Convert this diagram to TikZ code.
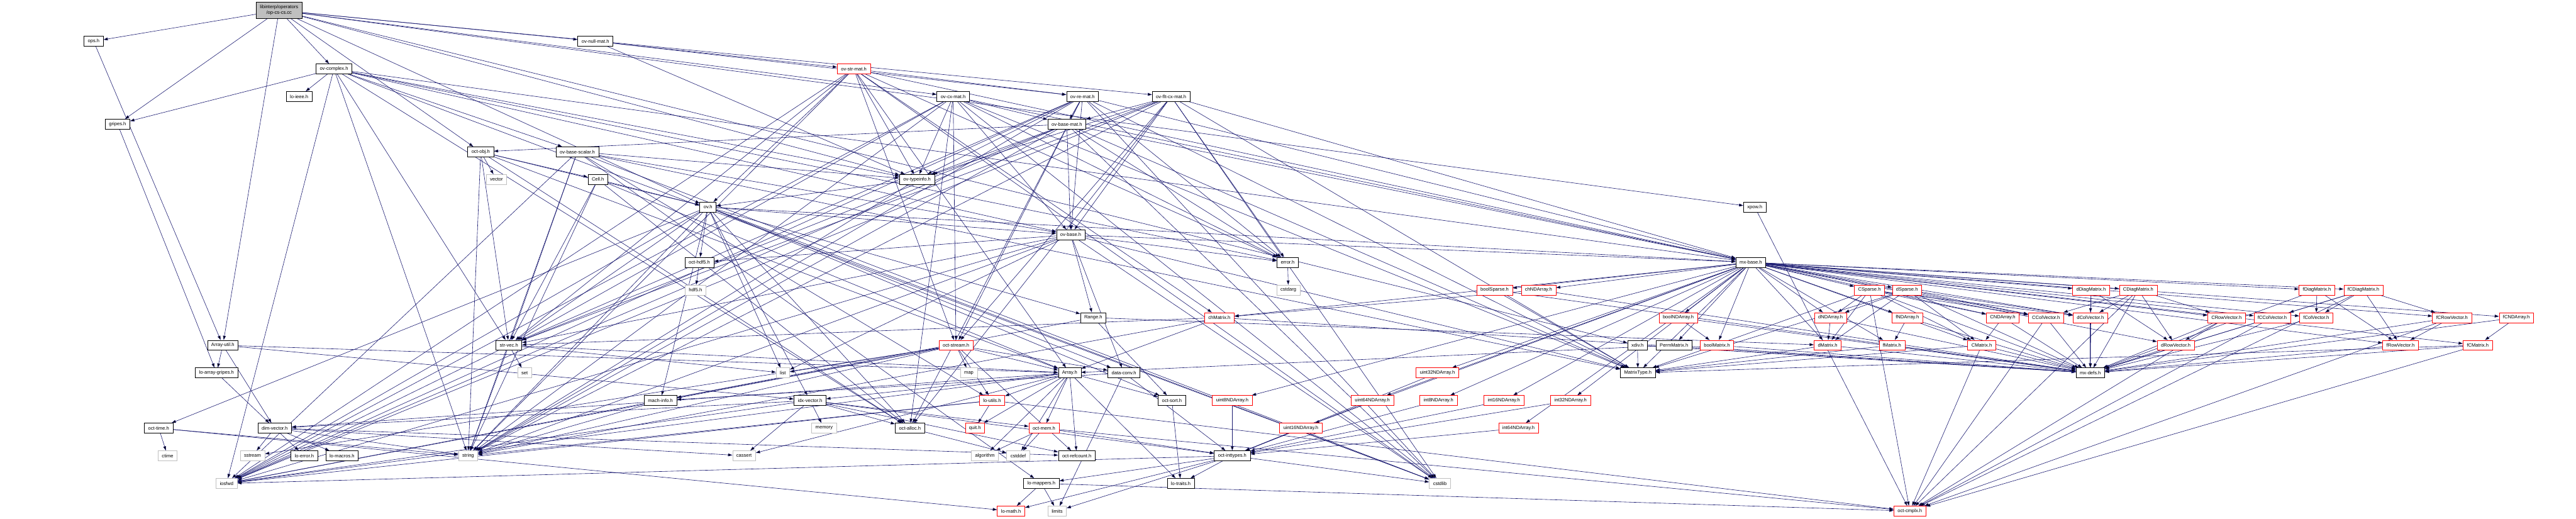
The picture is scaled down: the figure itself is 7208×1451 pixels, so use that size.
\documentclass[tikz,border=0pt]{standalone}
\usepackage{fontspec}
\setmainfont{Liberation Sans}
\usetikzlibrary{arrows.meta}
\definecolor{edgeblue}{HTML}{191970}
\definecolor{sysgray}{HTML}{BFBFBF}
\definecolor{mainfill}{HTML}{BFBFBF}
\definecolor{truncred}{HTML}{FF0000}
\pgfdeclarelayer{background}
\pgfsetlayers{background,main}

\begin{document}
\begin{tikzpicture}[x=0.75pt,y=-0.75pt,font=\fontsize{10}{12}\selectfont,
  hdr/.style={draw=black,fill=white,line width=0.8pt,minimum height=21pt,inner xsep=8pt,inner ysep=2pt},
  sys/.style={hdr,draw=sysgray},
  trunc/.style={hdr,draw=truncred},
  srcfile/.style={hdr,fill=mainfill,align=center,minimum height=34pt},
  dep/.style={draw=edgeblue,line width=0.8pt,>={Triangle[length=9pt,width=6pt]},->}]
  \useasboundingbox (0,0) rectangle (7208,1451);

  % rank 0 - 3
  \node[srcfile] (opcscc) at (781,29) {libinterp/operators\\/op-cs-cs.cc};
  \node[hdr] (ops) at (262,115.5) {ops.h};
  \node[hdr] (ovnullmat) at (1666,115.5) {ov-null-mat.h};
  \node[hdr] (ovcomplex) at (934.5,192.8) {ov-complex.h};
  \node[trunc] (ovstrmat) at (2389,192.8) {ov-str-mat.h};
  \node[hdr] (loieee) at (837,270.1) {lo-ieee.h};
  \node[hdr] (ovcxmat) at (2667,270.1) {ov-cx-mat.h};
  \node[hdr] (ovremat) at (3029,270.1) {ov-re-mat.h};
  \node[hdr] (ovfltcxmat) at (3277,270.1) {ov-flt-cx-mat.h};

  % rank 4 - 8
  \node[hdr] (gripes) at (329,347.4) {gripes.h};
  \node[hdr] (ovbasemat) at (2985,347.4) {ov-base-mat.h};
  \node[hdr] (octobj) at (1345,424.7) {oct-obj.h};
  \node[hdr] (ovbasescalar) at (1615.5,424.7) {ov-base-scalar.h};
  \node[sys] (vector) at (1389,502) {vector};
  \node[hdr] (cell) at (1673,502) {Cell.h};
  \node[hdr] (ovtypeinfo) at (2566,502) {ov-typeinfo.h};
  \node[hdr] (ov) at (1981,579.3) {ov.h};
  \node[hdr] (xpow) at (4910,579.3) {xpow.h};
  \node[hdr] (ovbase) at (2996,656.6) {ov-base.h};

  % rank 9 - 10
  \node[hdr] (octhdf5) at (1957,733.9) {oct-hdf5.h};
  \node[hdr] (error) at (3603,733.9) {error.h};
  \node[hdr] (mxbase) at (4899,733.9) {mx-base.h};
  \node[sys] (hdf5) at (1946,811.2) {hdf5.h};
  \node[sys] (cstdarg) at (3605,811.2) {cstdarg};
  \node[trunc] (boolsparse) at (4182,811.2) {boolSparse.h};
  \node[trunc] (chndarray) at (4305,811.2) {chNDArray.h};
  \node[trunc] (csparse) at (5231,811.2) {CSparse.h};
  \node[trunc] (dsparse) at (5336,811.2) {dSparse.h};
  \node[trunc] (ddiagmatrix) at (5851,811.2) {dDiagMatrix.h};
  \node[trunc] (cdiagmatrix) at (5983,811.2) {CDiagMatrix.h};
  \node[trunc] (fdiagmatrix) at (6483,811.2) {fDiagMatrix.h};
  \node[trunc] (fcdiagmatrix) at (6613,811.2) {fCDiagMatrix.h};

  % rank 11
  \node[hdr] (range) at (3059,888.5) {Range.h};
  \node[trunc] (chmatrix) at (3412,888.5) {chMatrix.h};
  \node[trunc] (boolndarray) at (4696,888.5) {boolNDArray.h};
  \node[trunc] (dndarray) at (5122,888.5) {dNDArray.h};
  \node[trunc] (fndarray) at (5337,888.5) {fNDArray.h};
  \node[trunc] (cndarray) at (5604,888.5) {CNDArray.h};
  \node[trunc] (ccolvector) at (5725,888.5) {CColVector.h};
  \node[trunc] (dcolvector) at (5849,888.5) {dColVector.h};
  \node[trunc] (crowvector) at (6230,888.5) {CRowVector.h};
  \node[trunc] (fccolvector) at (6358,888.5) {fCColVector.h};
  \node[trunc] (fcolvector) at (6481,888.5) {fColVector.h};
  \node[trunc] (fcrowvector) at (6861,888.5) {fCRowVector.h};
  \node[trunc] (fcndarray) at (7041,888.5) {fCNDArray.h};

  % rank 12
  \node[hdr] (arrayutil) at (623.5,965.8) {Array-util.h};
  \node[hdr] (strvec) at (1424,965.8) {str-vec.h};
  \node[trunc] (octstream) at (2675,965.8) {oct-stream.h};
  \node[hdr] (xdiv) at (4582,965.8) {xdiv.h};
  \node[hdr] (permmatrix) at (4684,965.8) {PermMatrix.h};
  \node[trunc] (boolmatrix) at (4804,965.8) {boolMatrix.h};
  \node[trunc] (dmatrix) at (5114,965.8) {dMatrix.h};
  \node[trunc] (fmatrix) at (5294,965.8) {fMatrix.h};
  \node[trunc] (cmatrix) at (5545,965.8) {CMatrix.h};
  \node[trunc] (drowvector) at (6088,965.8) {dRowVector.h};
  \node[trunc] (frowvector) at (6717,965.8) {fRowVector.h};
  \node[trunc] (fcmatrix) at (6933,965.8) {fCMatrix.h};

  % rank 13 - 14
  \node[hdr] (loarraygripes) at (606,1043.1) {lo-array-gripes.h};
  \node[sys] (set) at (1468,1043.1) {set};
  \node[sys] (list) at (2190.5,1043.1) {list};
  \node[sys] (map) at (2711,1043.1) {map};
  \node[hdr] (array) at (2993,1043.1) {Array.h};
  \node[hdr] (dataconv) at (3145,1043.1) {data-conv.h};
  \node[trunc] (uint32nda) at (4022,1043.1) {uint32NDArray.h};
  \node[hdr] (matrixtype) at (4583,1043.1) {MatrixType.h};
  \node[hdr] (mxdefs) at (5849,1043.1) {mx-defs.h};
  \node[hdr] (machinfo) at (1848,1120.4) {mach-info.h};
  \node[hdr] (idxvector) at (2266.5,1120.4) {idx-vector.h};
  \node[trunc] (loutils) at (2776,1120.4) {lo-utils.h};
  \node[hdr] (octsort) at (3279,1120.4) {oct-sort.h};
  \node[trunc] (uint8nda) at (3448,1120.4) {uint8NDArray.h};
  \node[trunc] (uint64nda) at (3840,1120.4) {uint64NDArray.h};
  \node[trunc] (int8nda) at (4025,1120.4) {int8NDArray.h};
  \node[trunc] (int16nda) at (4208,1120.4) {int16NDArray.h};
  \node[trunc] (int32nda) at (4394.5,1120.4) {int32NDArray.h};

  % rank 15 - 16
  \node[hdr] (octtime) at (444,1197.7) {oct-time.h};
  \node[hdr] (dimvector) at (768.6,1197.7) {dim-vector.h};
  \node[sys] (memory) at (2306,1197.7) {memory};
  \node[hdr] (octalloc) at (2546,1197.7) {oct-alloc.h};
  \node[trunc] (quit) at (2728,1197.7) {quit.h};
  \node[trunc] (octmem) at (2921,1197.7) {oct-mem.h};
  \node[trunc] (uint16nda) at (3640,1197.7) {uint16NDArray.h};
  \node[trunc] (int64nda) at (4249,1197.7) {int64NDArray.h};
  \node[sys] (ctime) at (469,1275) {ctime};
  \node[sys] (sstream) at (706.5,1275) {sstream};
  \node[hdr] (loerror) at (851.6,1275) {lo-error.h};
  \node[hdr] (lomacros) at (957,1275) {lo-macros.h};
  \node[sys] (string) at (1310,1275) {string};
  \node[sys] (cassert) at (2082,1275) {cassert};
  \node[sys] (algorithm) at (2756,1275) {algorithm};
  \node[sys] (cstddef) at (2849,1275) {cstddef};
  \node[hdr] (octrefcount) at (3013,1275) {oct-refcount.h};
  \node[hdr] (octinttypes) at (3448,1275) {oct-inttypes.h};

  % rank 17 - 18
  \node[sys] (iosfwd) at (634,1352.3) {iosfwd};
  \node[sys] (cstdlib) at (4029,1352.3) {cstdlib};
  \node[hdr] (lomappers) at (2914,1352.3) {lo-mappers.h};
  \node[hdr] (lotraits) at (3304,1352.3) {lo-traits.h};
  \node[trunc] (octcmplx) at (5344,1429.6) {oct-cmplx.h};
  \node[trunc] (lomath) at (2829,1429.6) {lo-math.h};
  \node[sys] (limits) at (2958,1429.6) {limits};

  \begin{pgfonlayer}{background}
  \path[dep] (opcscc) edge (ops) edge (gripes) edge (ovcomplex) edge (ovnullmat) edge (ovcxmat) edge (ovfltcxmat)
    edge (octobj) edge (ov) edge (ovtypeinfo) edge (arrayutil) edge (xdiv) edge (xpow);
  \path[dep] (ops) edge (arrayutil);
  \path[dep] (gripes) edge (loarraygripes);
  \path[dep] (ovcomplex) edge (loieee) edge (gripes) edge (cstdlib) edge (iosfwd) edge (string) edge (mxbase)
    edge (octalloc) edge (strvec) edge (error) edge (ovbase) edge (ovbasescalar) edge (ovtypeinfo);
  \path[dep] (ovnullmat) edge (ovstrmat) edge (ovremat) edge (ovtypeinfo);
  \path[dep] (ovstrmat) edge (cstdlib) edge (iosfwd) edge (string) edge (array) edge (chmatrix) edge (mxbase)
    edge (strvec) edge (error) edge (octstream) edge (ov) edge (ovremat) edge (ovtypeinfo);
  \path[dep] (ovcxmat) edge (cstdlib) edge (iosfwd) edge (string) edge (mxbase) edge (octalloc) edge (strvec)
    edge (error) edge (octstream) edge (ovbase) edge (ovbasemat) edge (ovtypeinfo) edge (matrixtype);
  \path[dep] (ovremat) edge (cstdlib) edge (iosfwd) edge (string) edge (mxbase) edge (octalloc) edge (strvec)
    edge (error) edge (octstream) edge (ovbase) edge (ovbasemat) edge (ovtypeinfo) edge (matrixtype);
  \path[dep] (ovfltcxmat) edge (cstdlib) edge (iosfwd) edge (string) edge (mxbase) edge (octalloc) edge (strvec)
    edge (error) edge (octstream) edge (ovbase) edge (ovbasemat) edge (ovtypeinfo) edge (matrixtype);
  \path[dep] (ovbasemat) edge (cstdlib) edge (iosfwd) edge (string) edge (mxbase) edge (strvec) edge (matrixtype)
    edge (error) edge (octobj) edge (ovbase) edge (ovtypeinfo);
  \path[dep] (octobj) edge (string) edge (vector) edge (octalloc) edge (strvec) edge (array) edge (cell) edge (ov);
  \path[dep] (ovbasescalar) edge (cstdlib) edge (iosfwd) edge (string) edge (lomappers) edge (loutils)
    edge (strvec) edge (matrixtype) edge (ovbase) edge (ovtypeinfo);
  \path[dep] (cell) edge (string) edge (array) edge (octalloc) edge (strvec) edge (ov);
  \path[dep] (ovtypeinfo) edge (string) edge (ov);
  \path[dep] (ov) edge (cstdlib) edge (iosfwd) edge (string) edge (list) edge (range) edge (dataconv)
    edge (idxvector) edge (machinfo) edge (mxbase) edge (octalloc) edge (octtime) edge (strvec)
    edge (octhdf5) edge (octsort) edge (ovbase);
  \path[dep] (xpow) edge (octcmplx);
  \path[dep] (ovbase) edge (cstdlib) edge (iosfwd) edge (list) edge (string) edge (range) edge (dataconv)
    edge (mxbase) edge (strvec) edge (error) edge (octhdf5) edge (matrixtype);
  \path[dep] (octhdf5) edge (hdf5);
  \path[dep] (error) edge (cstdarg);
  \path[dep] (mxbase) edge (matrixtype) edge (boolmatrix) edge (boolndarray) edge (chmatrix) edge (chndarray)
    edge (dcolvector) edge (drowvector) edge (dmatrix) edge (dndarray) edge (ddiagmatrix)
    edge (ccolvector) edge (crowvector) edge (cmatrix) edge (cndarray) edge (cdiagmatrix)
    edge (fcolvector) edge (frowvector) edge (fmatrix) edge (fndarray) edge (fdiagmatrix)
    edge (fccolvector) edge (fcrowvector) edge (fcmatrix) edge (fcndarray) edge (fcdiagmatrix)
    edge (boolsparse) edge (csparse) edge (dsparse) edge (permmatrix)
    edge (int8nda) edge (int16nda) edge (int32nda) edge (int64nda)
    edge (uint8nda) edge (uint16nda) edge (uint32nda) edge (uint64nda);
  \path[dep] (chndarray) edge (chmatrix) edge (mxdefs);
  \path[dep] (boolsparse) edge (matrixtype) edge (mxdefs);
  \path[dep] (csparse) edge (dmatrix) edge (dndarray) edge (cndarray) edge (ccolvector) edge (dcolvector)
    edge (cmatrix) edge (mxdefs) edge (octcmplx) edge (matrixtype);
  \path[dep] (dsparse) edge (dmatrix) edge (dndarray) edge (dcolvector) edge (ccolvector) edge (cmatrix)
    edge (mxdefs) edge (matrixtype);
  \path[dep] (ddiagmatrix) edge (dcolvector) edge (drowvector) edge (mxdefs);
  \path[dep] (cdiagmatrix) edge (ccolvector) edge (crowvector) edge (dcolvector) edge (drowvector)
    edge (mxdefs) edge (octcmplx);
  \path[dep] (fdiagmatrix) edge (fcolvector) edge (frowvector) edge (mxdefs);
  \path[dep] (fcdiagmatrix) edge (fccolvector) edge (fcrowvector) edge (fcolvector) edge (frowvector)
    edge (mxdefs) edge (octcmplx);
  \path[dep] (range) edge (iosfwd) edge (dmatrix) edge (octsort);
  \path[dep] (chmatrix) edge (string) edge (array) edge (strvec) edge (mxdefs);
  \path[dep] (boolndarray) edge (boolmatrix) edge (mxdefs);
  \path[dep] (dndarray) edge (dmatrix) edge (mxdefs);
  \path[dep] (fndarray) edge (fmatrix) edge (mxdefs);
  \path[dep] (cndarray) edge (cmatrix) edge (mxdefs);
  \path[dep] (ccolvector) edge (mxdefs) edge (octcmplx);
  \path[dep] (dcolvector) edge (mxdefs);
  \path[dep] (crowvector) edge (drowvector) edge (mxdefs) edge (octcmplx);
  \path[dep] (fccolvector) edge (mxdefs) edge (octcmplx);
  \path[dep] (fcolvector) edge (mxdefs);
  \path[dep] (fcrowvector) edge (frowvector) edge (mxdefs) edge (octcmplx);
  \path[dep] (fcndarray) edge (fcmatrix) edge (mxdefs);
  \path[dep] (arrayutil) edge (loarraygripes) edge (dimvector) edge (array) edge (idxvector);
  \path[dep] (strvec) edge (set) edge (list) edge (string) edge (iosfwd) edge (array);
  \path[dep] (octstream) edge (map) edge (list) edge (array) edge (dataconv) edge (loutils) edge (machinfo)
    edge (octrefcount) edge (sstream) edge (string) edge (iosfwd);
  \path[dep] (xdiv) edge (matrixtype) edge (mxdefs);
  \path[dep] (permmatrix) edge (array) edge (mxdefs);
  \path[dep] (boolmatrix) edge (mxdefs);
  \path[dep] (dmatrix) edge (mxdefs) edge (matrixtype);
  \path[dep] (fmatrix) edge (mxdefs) edge (matrixtype);
  \path[dep] (cmatrix) edge (mxdefs) edge (matrixtype) edge (octcmplx);
  \path[dep] (drowvector) edge (mxdefs);
  \path[dep] (frowvector) edge (mxdefs);
  \path[dep] (fcmatrix) edge (mxdefs) edge (matrixtype) edge (octcmplx);
  \path[dep] (loarraygripes) edge (dimvector);
  \path[dep] (array) edge (cassert) edge (cstddef) edge (algorithm) edge (iosfwd) edge (dimvector)
    edge (idxvector) edge (lotraits) edge (loutils) edge (octsort) edge (quit) edge (octmem) edge (octrefcount);
  \path[dep] (dataconv) edge (limits) edge (machinfo) edge (octinttypes);
  \path[dep] (uint32nda) edge (octinttypes);
  \path[dep] (machinfo) edge (string);
  \path[dep] (idxvector) edge (cassert) edge (memory) edge (iosfwd) edge (dimvector) edge (octinttypes)
    edge (octalloc) edge (octmem) edge (octrefcount);
  \path[dep] (loutils) edge (quit) edge (string) edge (iosfwd) edge (octcmplx);
  \path[dep] (octsort) edge (lotraits);
  \path[dep] (uint8nda) edge (octinttypes);
  \path[dep] (uint64nda) edge (octinttypes);
  \path[dep] (int8nda) edge (octinttypes);
  \path[dep] (int16nda) edge (octinttypes);
  \path[dep] (int32nda) edge (octinttypes);
  \path[dep] (uint16nda) edge (octinttypes);
  \path[dep] (int64nda) edge (octinttypes);
  \path[dep] (octtime) edge (ctime) edge (string) edge (lomath);
  \path[dep] (dimvector) edge (sstream) edge (loerror) edge (lomacros) edge (string) edge (cassert) edge (octrefcount);
  \path[dep] (octalloc) edge (cstddef);
  \path[dep] (octmem) edge (cstddef) edge (algorithm) edge (octinttypes) edge (octcmplx);
  \path[dep] (octinttypes) edge (lomappers) edge (lotraits) edge (lomath) edge (limits) edge (cstdlib) edge (iosfwd);
  \path[dep] (lomappers) edge (lomath) edge (limits) edge (octcmplx);
  \end{pgfonlayer}
\end{tikzpicture}
\end{document}
